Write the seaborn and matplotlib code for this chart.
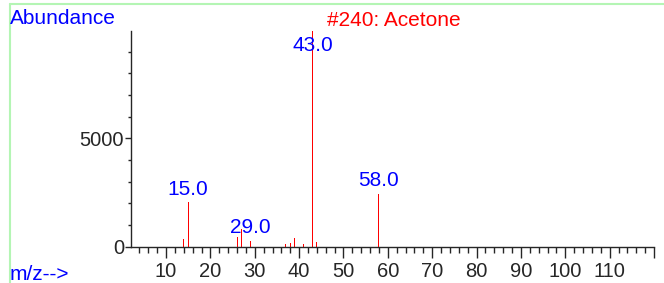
import pandas as pd
import seaborn as sns
import matplotlib.pyplot as plt
from matplotlib.ticker import MultipleLocator, FixedLocator

# datos del espectro (m/z y abundancia)
mz = [14, 15, 26, 27, 29, 37, 38, 39, 41, 42, 43, 44, 58]
abundancia = [360, 2040, 470, 820, 280, 130, 150, 420, 130, 760, 9950, 230, 2440]
etiquetas = [15, 29, 43, 58]

titulo = '#240: Acetone'

df = pd.DataFrame({'mz': mz, 'abundance': abundancia})

sns.set_style('ticks')
plt.rcParams['font.family'] = ['Liberation Sans', 'DejaVu Sans']

fig = plt.figure(figsize=(6.64, 2.83), dpi=100)
ax = fig.add_axes([131 / 664, 1 - 246.7 / 283, (654 - 131) / 664, (246.7 - 31) / 283])

sns.barplot(data=df, x='mz', y='abundance', native_scale=True, width=0.22,
            color='red', saturation=1, linewidth=0, ax=ax)

ax.set_xlim(2.1, 120)
ax.set_ylim(0, 9950)
ax.set_xlabel('')
ax.set_ylabel('')

# ticks
ax.xaxis.set_major_locator(FixedLocator(range(10, 121, 10)))
ax.set_xticklabels([str(v) for v in range(10, 111, 10)] + [''])
ax.xaxis.set_minor_locator(MultipleLocator(2))
ax.yaxis.set_major_locator(FixedLocator([0, 5000]))
ax.yaxis.set_minor_locator(MultipleLocator(1000))
ax.tick_params(axis='x', which='major', length=8, width=1, labelsize=14.5, pad=3)
ax.tick_params(axis='x', which='minor', length=4, width=1)
ax.tick_params(axis='y', which='major', length=4, width=1, labelsize=14.5, pad=1)
ax.tick_params(axis='y', which='minor', length=2.5, width=1)
sns.despine(ax=ax)
ax.spines['left'].set_linewidth(1)
ax.spines['bottom'].set_linewidth(1)

# etiquetas de picos
for m in etiquetas:
    val = df.loc[df['mz'] == m, 'abundance'].iloc[0]
    ax.annotate(f'{m:.1f}', xy=(m, min(val, 8700)), xytext=(0, 2.5),
                textcoords='offset points', ha='center', va='bottom',
                color='blue', fontsize=15, annotation_clip=False)

# textos de la figura
fig.text(10 / 664, 1 - 24 / 283, 'Abundance', color='blue', fontsize=15, va='baseline')
fig.text(327 / 664, 1 - 26 / 283, titulo, color='red', fontsize=15, va='baseline')
fig.text(10 / 664, 1 - 280 / 283, 'm/z-->', color='blue', fontsize=15, va='baseline')

# marco verde
fig.add_artist(plt.Line2D([9.5 / 664, 9.5 / 664], [0, 1 - 3.5 / 283], color='#b4f5b4', lw=1.5))
fig.add_artist(plt.Line2D([9.5 / 664, 1], [1 - 3.5 / 283, 1 - 3.5 / 283], color='#b4f5b4', lw=1.5))

plt.savefig('out.png', dpi=100)
